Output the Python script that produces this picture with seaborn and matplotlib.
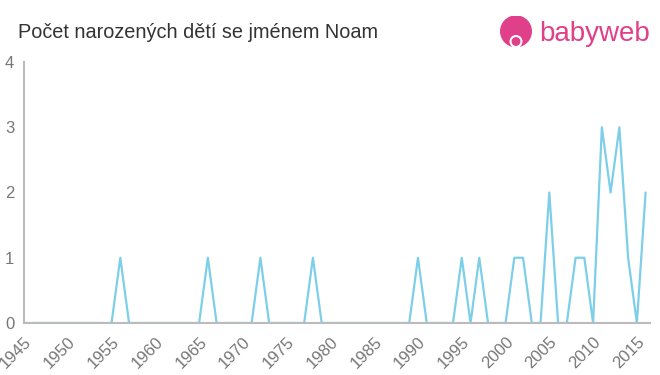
import matplotlib
matplotlib.use("Agg")
import matplotlib.pyplot as plt
import seaborn as sns
import pandas as pd
from matplotlib.patches import Circle

years = list(range(1945, 2017))
counts_by_year = {1956: 1, 1966: 1, 1972: 1, 1978: 1, 1990: 1, 1995: 1, 1997: 1,
                  2001: 1, 2002: 1, 2005: 2, 2008: 1, 2009: 1, 2011: 3, 2012: 2,
                  2013: 3, 2014: 1, 2016: 2}
counts = [counts_by_year.get(y, 0) for y in years]
xticks = list(range(1945, 2016, 5))
yticks = [0, 1, 2, 3, 4]
title = "Počet narozených dětí se jménem Noam"

df = pd.DataFrame({"year": years, "count": counts})

sns.set_style("white")
plt.rcParams['font.family'] = ['Liberation Sans', 'DejaVu Sans']

fig = plt.figure(figsize=(6.6, 3.75), dpi=100)
ax = fig.add_axes([24/660, 1-323/375, (650-24)/660, (323-62)/375])
sns.lineplot(data=df, x="year", y="count", ax=ax, color="#7dcfe9", linewidth=1.6)

ax.set_xlim(1945, 2016.5)
ax.set_ylim(0, 4)
ax.set_xticks(xticks)
ax.set_xticklabels([str(t) for t in xticks], rotation=45, ha="right", rotation_mode="anchor")
ax.set_yticks(yticks)
ax.set_xlabel("")
ax.set_ylabel("")
for s in ["top", "right"]:
    ax.spines[s].set_visible(False)
for s in ["left", "bottom"]:
    ax.spines[s].set_color("#bbbbbb")
    ax.spines[s].set_linewidth(1.5)
ax.tick_params(axis="both", colors="#bbbbbb", length=5, width=1.2, direction="out",
               labelcolor="#777777", labelsize=12)
ax.tick_params(axis="x", pad=3)
ax.tick_params(axis="y", pad=2)
ax.grid(False)

fig.text(18/660, 1-32/375, title, fontsize=14.3, color="#333333", va="center", ha="left")

# logo
logo_ax = fig.add_axes([499/660, 1-50/375, 34/660, 34/375])
logo_ax.set_xlim(0, 1); logo_ax.set_ylim(0, 1); logo_ax.set_aspect("equal"); logo_ax.axis("off")
logo_ax.add_patch(Circle((0.5, 0.55), 0.45, color="#e0408a"))
logo_ax.add_patch(Circle((0.5, 0.25), 0.17, color="white"))
logo_ax.add_patch(Circle((0.5, 0.25), 0.11, color="#e0408a"))
fig.text(539/660, 1-34/375, "babyweb", fontsize=20, color="#e0408a", va="center", ha="left")

fig.savefig("out.png", dpi=100)
